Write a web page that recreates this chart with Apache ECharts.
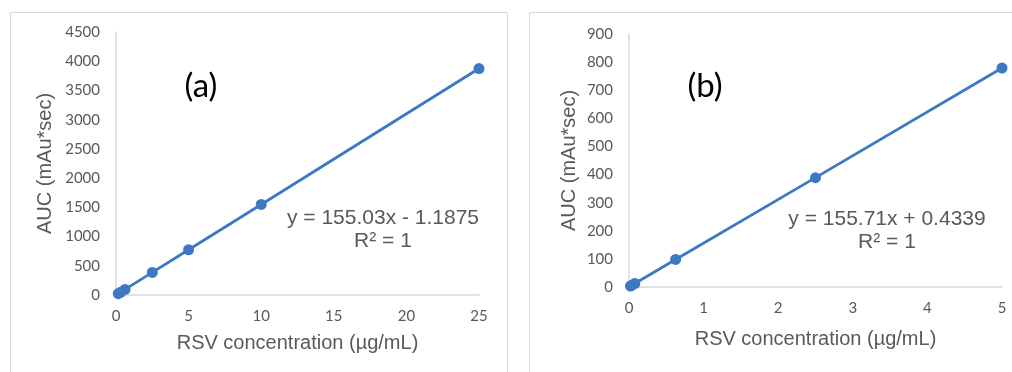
<!DOCTYPE html>
<html>
<head>
<meta charset="utf-8">
<script src="https://cdn.jsdelivr.net/npm/echarts@6/dist/echarts.min.js"></script>
<style>
  html, body { margin: 0; padding: 0; background: #fff; }
  #chart { width: 1012px; height: 372px; }
</style>
</head>
<body>
<div id="chart"></div>
<script>
// Calibration curve (a): concentration (µg/mL) vs AUC
const concA = [0.156, 0.3125, 0.625, 2.5, 5, 10, 25];
const aucA = [23, 47, 96, 387, 774, 1549, 3875];
// Calibration curve (b)
const concB = [0.0195, 0.039, 0.078, 0.625, 2.5, 5];
const aucB = [3.5, 6.5, 12.5, 98, 389, 779];

const yTicksA = { min: 0, max: 4500, interval: 500 };
const xTicksA = { min: 0, max: 25, interval: 5 };
const yTicksB = { min: 0, max: 900, interval: 100 };
const xTicksB = { min: 0, max: 5, interval: 1 };

const eqA = ['y = 155.03x - 1.1875', 'R² = 1'];
const eqB = ['y = 155.71x + 0.4339', 'R² = 1'];
const xTitle = 'RSV concentration (µg/mL)';
const yTitle = 'AUC (mAu*sec)';

const lineColor = '#3d78c2';
const axisGray = '#d9d9d9';
const textGray = '#595959';
const tickFont = 'Lato, "Open Sans", sans-serif';
const titleFont = '"Liberation Sans", Arial, sans-serif';

function xAxisCfg(idx, t, gap) {
  return {
    type: 'value', gridIndex: idx, min: t.min, max: t.max, interval: t.interval,
    name: xTitle, nameLocation: 'middle', nameGap: gap,
    nameTextStyle: { color: textGray, fontSize: 20, fontFamily: titleFont },
    axisLine: { show: true, lineStyle: { color: axisGray, width: 1.5 } },
    axisTick: { show: false },
    splitLine: { show: false },
    axisLabel: { color: textGray, fontSize: 15, fontFamily: tickFont, margin: 14, formatter: v => String(v) }
  };
}
function yAxisCfg(idx, t, gap) {
  return {
    type: 'value', gridIndex: idx, min: t.min, max: t.max, interval: t.interval,
    name: yTitle, nameLocation: 'middle', nameGap: gap, nameRotate: 90,
    nameTextStyle: { color: textGray, fontSize: 20, fontFamily: titleFont },
    axisLine: { show: true, lineStyle: { color: axisGray, width: 1.5 } },
    axisTick: { show: false },
    splitLine: { show: false },
    axisLabel: { color: textGray, fontSize: 15, fontFamily: tickFont, margin: 16, formatter: v => String(v) }
  };
}
function seriesCfg(idx, xs, ys) {
  return {
    type: 'line', xAxisIndex: idx, yAxisIndex: idx,
    data: xs.map((x, i) => [x, ys[i]]),
    symbol: 'circle', symbolSize: 11,
    itemStyle: { color: lineColor },
    lineStyle: { color: lineColor, width: 2.8 },
    animation: false
  };
}
function eqText(lines, cx, y) {
  return lines.map((s, i) => ({
    type: 'text', x: cx, y: y + i * 23,
    style: { text: s, fill: textGray, fontSize: 21, fontFamily: titleFont, align: 'center', verticalAlign: 'middle' }
  }));
}

const chart = echarts.init(document.getElementById('chart'), null, { renderer: 'canvas' });
chart.setOption({
  backgroundColor: '#ffffff',
  animation: false,
  grid: [
    { left: 116, top: 32, width: 363, height: 263 },
    { left: 629, top: 34, width: 373, height: 253 }
  ],
  xAxis: [xAxisCfg(0, xTicksA, 38), xAxisCfg(1, xTicksB, 42)],
  yAxis: [yAxisCfg(0, yTicksA, 61), yAxisCfg(1, yTicksB, 50)],
  series: [seriesCfg(0, concA, aucA), seriesCfg(1, concB, aucB)],
  graphic: [
    { type: 'rect', shape: { x: 10.5, y: 12.5, width: 497, height: 380 }, style: { fill: 'none', stroke: '#d9d9d9', lineWidth: 1 }, silent: true, z: -1 },
    { type: 'rect', shape: { x: 529.5, y: 12.5, width: 500, height: 380 }, style: { fill: 'none', stroke: '#d9d9d9', lineWidth: 1 }, silent: true, z: -1 },
    { type: 'text', x: 201, y: 86, style: { text: '(a)', fill: '#000', fontSize: 33, fontFamily: tickFont, align: 'center', verticalAlign: 'middle' } },
    { type: 'text', x: 705, y: 86, style: { text: '(b)', fill: '#000', fontSize: 33, fontFamily: tickFont, align: 'center', verticalAlign: 'middle' } },
    ...eqText(eqA, 383, 218),
    ...eqText(eqB, 887, 219)
  ]
});
</script>
</body>
</html>
